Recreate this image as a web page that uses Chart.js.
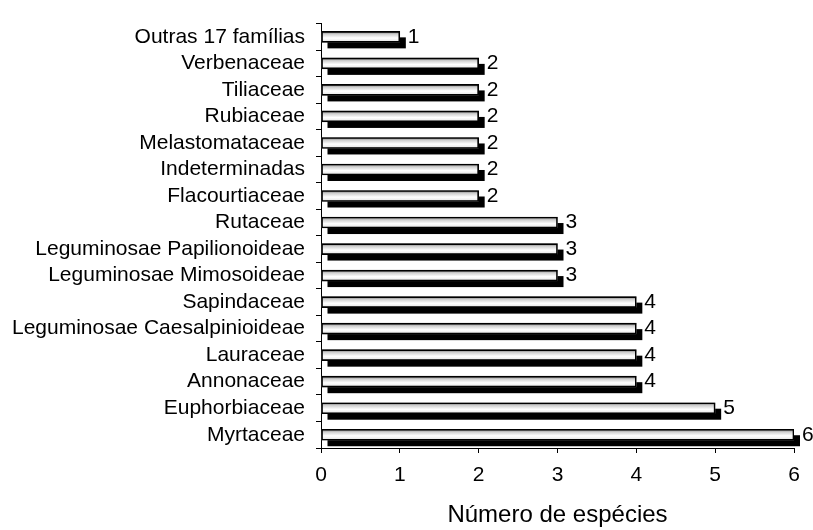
<!DOCTYPE html>
<html>
<head>
<meta charset="utf-8">
<script src="https://cdn.jsdelivr.net/npm/chart.js@4.4.1/dist/chart.umd.min.js"></script>
<style>
    html, body { margin: 0; padding: 0; background: #fff; }
    #wrap { width: 813px; height: 530px; }
</style>
</head>
<body>
<div id="wrap"><canvas id="myChart" width="813" height="530"></canvas></div>
<script>
// famílias, de cima para baixo
var familias = [
    "Outras 17 famílias",
    "Verbenaceae",
    "Tiliaceae",
    "Rubiaceae",
    "Melastomataceae",
    "Indeterminadas",
    "Flacourtiaceae",
    "Rutaceae",
    "Leguminosae Papilionoideae",
    "Leguminosae Mimosoideae",
    "Sapindaceae",
    "Leguminosae Caesalpinioideae",
    "Lauraceae",
    "Annonaceae",
    "Euphorbiaceae",
    "Myrtaceae",
];
var especies = [1, 2, 2, 2, 2, 2, 2, 3, 3, 3, 4, 4, 4, 4, 5, 6];
var xTicks = [0, 1, 2, 3, 4, 5, 6];
var xTitle = "Número de espécies";

var fonte = "'Liberation Sans', Arial, sans-serif";

/** sombra preta + preenchimento degradê de cada barra */
var barShadow = {
    id: "barShadow",
    beforeDatasetsDraw: function (chart) {
        var ctx = chart.ctx;
        chart.getDatasetMeta(0).data.forEach(function (bar) {
            var p = bar.getProps(["x", "y", "base", "height"], true);
            var top = p.y - p.height / 2;
            var w = p.x - p.base;
            ctx.save();
            ctx.fillStyle = "#000";
            ctx.fillRect(p.base + 6, top + 6, w, p.height);
            var g = ctx.createLinearGradient(0, top, 0, top + p.height);
            g.addColorStop(0, "#6e6e6e");
            g.addColorStop(0.25, "#cfcfcf");
            g.addColorStop(0.6, "#ffffff");
            g.addColorStop(0.85, "#ececec");
            g.addColorStop(1, "#a0a0a0");
            ctx.fillStyle = g;
            ctx.fillRect(p.base, top, w, p.height);
            ctx.restore();
        });
    },
    // valor ao lado de cada barra
    afterDatasetsDraw: function (chart) {
        var ctx = chart.ctx;
        ctx.save();
        ctx.fillStyle = "#000";
        ctx.font = "21px " + fonte;
        ctx.textAlign = "left";
        ctx.textBaseline = "middle";
        chart.getDatasetMeta(0).data.forEach(function (bar, i) {
            ctx.fillText(especies[i], bar.x + 8, bar.y);
        });
        ctx.restore();
    },
};

const ctx = document.getElementById("myChart");
var myChart = new Chart(ctx, {
    type: "bar",
    data: {
        labels: familias,
        datasets: [
            {
                data: especies,
                backgroundColor: "rgba(0,0,0,0)",
                borderColor: "#000",
                borderWidth: 1,
                borderSkipped: false,
                barThickness: 11,
            },
        ],
    },
    options: {
        indexAxis: "y",
        responsive: false,
        animation: false,
        layout: {
            padding: { top: 11, right: 19, left: 0, bottom: 0 },
        },
        plugins: {
            legend: { display: false },
            tooltip: { enabled: false },
        },
        scales: {
            y: {
                afterFit: function (s) {
                    s.width = 321;
                },
                grid: {
                    drawOnChartArea: false,
                    tickLength: 5,
                    color: "#000",
                    offset: true,
                },
                border: { color: "#000", width: 1 },
                ticks: {
                    color: "#000",
                    font: { family: fonte, size: 21 },
                    padding: 11,
                    autoSkip: false,
                },
            },
            x: {
                min: 0,
                max: 6,
                afterFit: function (s) {
                    s.height = 82;
                },
                afterBuildTicks: function (s) {
                    s.ticks = xTicks.map(function (v) {
                        return { value: v };
                    });
                },
                grid: {
                    drawOnChartArea: false,
                    tickLength: 5,
                    color: "#000",
                },
                border: { color: "#000", width: 1 },
                ticks: {
                    color: "#000",
                    font: { family: fonte, size: 21 },
                    padding: 10,
                },
                title: {
                    display: true,
                    text: xTitle,
                    color: "#000",
                    font: { family: fonte, size: 24 },
                    padding: { top: 0, bottom: 0 },
                },
            },
        },
    },
    plugins: [barShadow],
});
</script>
</body>
</html>
